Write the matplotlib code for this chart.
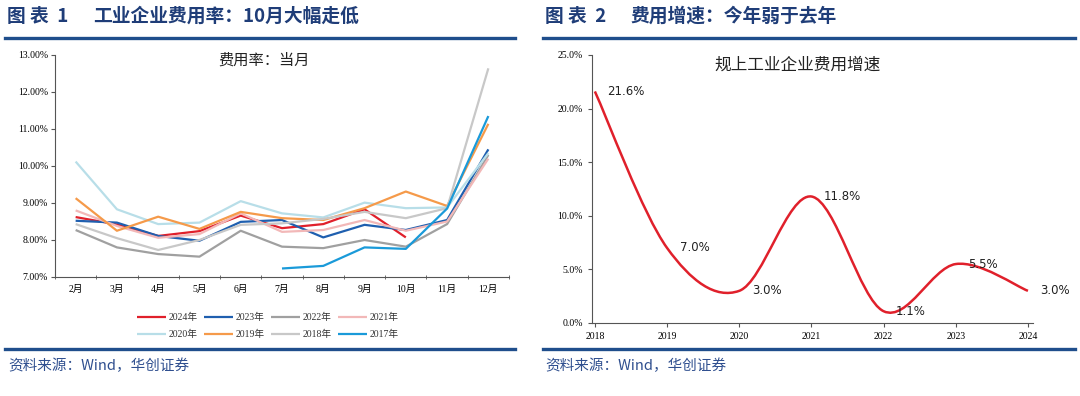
import numpy as np
import matplotlib
matplotlib.use("Agg")
import matplotlib.pyplot as plt
from matplotlib.path import Path
from matplotlib.patches import PathPatch
from matplotlib.lines import Line2D
from matplotlib.ticker import FuncFormatter, FixedLocator

plt.rcParams['font.family'] = ['Liberation Serif', 'Noto Sans CJK SC', 'DejaVu Sans']

# ---------------- data ----------------
months = ['2月', '3月', '4月', '5月', '6月', '7月', '8月', '9月', '10月', '11月', '12月']
nan = np.nan
rate_2024 = [8.62, 8.42, 8.11, 8.24, 8.66, 8.32, 8.43, 8.83, 8.07, nan, nan]
rate_2023 = [8.52, 8.47, 8.11, 7.98, 8.49, 8.54, 8.07, 8.41, 8.27, 8.54, 10.45]
rate_2022 = [8.27, 7.80, 7.62, 7.55, 8.25, 7.82, 7.78, 8.00, 7.82, 8.43, 10.30]
rate_2021 = [8.80, 8.38, 8.06, 8.16, 8.72, 8.22, 8.27, 8.54, 8.25, 8.50, 10.20]
rate_2020 = [10.12, 8.83, 8.43, 8.47, 9.05, 8.72, 8.61, 9.01, 8.86, 8.88, 10.35]
rate_2019 = [9.13, 8.25, 8.63, 8.30, 8.76, 8.59, 8.54, 8.86, 9.31, 8.92, 11.14]
rate_2018 = [8.43, 8.05, 7.73, 8.00, 8.41, 8.45, 8.57, 8.76, 8.59, 8.86, 12.64]
rate_2017 = [nan, nan, nan, nan, nan, 7.23, 7.30, 7.80, 7.76, 8.85, 11.35]

series_names = ['2024年', '2023年', '2022年', '2021年', '2020年', '2019年', '2018年', '2017年']
series_vals = [rate_2024, rate_2023, rate_2022, rate_2021, rate_2020, rate_2019, rate_2018, rate_2017]
series_colors = ['#E0202B', '#1F5FAF', '#A0A0A0', '#F2B8B8', '#B8DEE8', '#F59A4A', '#C8C8C8', '#1A9AD9']

growth_years = ['2018', '2019', '2020', '2021', '2022', '2023', '2024']
growth_vals = [21.6, 7.0, 3.0, 11.8, 1.1, 5.5, 3.0]

W, H = 1080, 396
fig = plt.figure(figsize=(W / 100, H / 100), dpi=100)
fig.patch.set_facecolor('white')

def fx(px):
    return px / W

def fy(py):
    return 1 - py / H

navy = '#1F3D78'
cjk = ['Noto Sans CJK SC', 'DejaVu Sans']

# ---------------- headers & rules ----------------
hdr = dict(fontsize=13.5, fontweight='bold', color=navy, va='center', ha='left', family=cjk)
fig.text(fx(7), fy(16), '图 表  1', **hdr)
fig.text(fx(93), fy(16), '工业企业费用率：10月大幅走低', **hdr)
fig.text(fx(545), fy(16), '图 表  2', **hdr)
fig.text(fx(630), fy(16), '费用增速：今年弱于去年', **hdr)
for x0, x1 in [(5, 515), (543, 1075)]:
    fig.add_artist(Line2D([fx(x0), fx(x1)], [fy(38), fy(38)], color='#1F4E8C', lw=2.4))
    fig.add_artist(Line2D([fx(x0), fx(x1)], [fy(349), fy(349)], color='#1F4E8C', lw=2.4))
src = dict(fontsize=10.5, color='#2F4F8F', va='center', ha='left', family=cjk)
fig.text(fx(8), fy(366), '资料来源：Wind，华创证券', **src)
fig.text(fx(545), fy(366), '资料来源：Wind，华创证券', **src)

# ---------------- left chart ----------------
axL = fig.add_axes([fx(55), fy(277), fx(509) - fx(55), fy(55) - fy(277)])
xs = np.arange(len(months))
lines = {}
for name, vals, col in zip(series_names, series_vals, series_colors):
    ln, = axL.plot(xs, vals, color=col, lw=1.6, label=name, solid_capstyle='butt')
    lines[name] = ln
axL.set_xlim(-0.5, len(months) - 0.5)
axL.set_ylim(7, 13)
axL.set_yticks(np.arange(7, 13.01, 1))
axL.yaxis.set_major_formatter(FuncFormatter(lambda v, p: f'{v:.2f}%'))
axL.set_xticks(xs)
axL.set_xticklabels(months)
axL.xaxis.set_minor_locator(FixedLocator(np.arange(-0.5, len(months), 1)))
axL.tick_params(axis='x', which='major', length=0, pad=6, labelsize=7)
axL.tick_params(axis='x', which='minor', length=3, direction='inout', color='#555555')
axL.tick_params(axis='y', length=3, direction='out', labelsize=7, pad=2, color='#555555')
for lab in axL.get_xticklabels() + axL.get_yticklabels():
    lab.set_family(['Liberation Serif', 'Noto Sans CJK SC'])
for s in ['top', 'right']:
    axL.spines[s].set_visible(False)
for s in ['left', 'bottom']:
    axL.spines[s].set_color('#555555')
    axL.spines[s].set_linewidth(0.8)
axL.text(0.46, 0.975, '费用率：当月', transform=axL.transAxes, ha='center', va='center',
         fontsize=11, family=cjk, color='#222222')

# legend: 4 columns, rows filled left-to-right (reorder for column-major fill)
ncol = 4
order = []
for c in range(ncol):
    for r in range(2):
        order.append(series_names[r * ncol + c])
leg = fig.legend([lines[n] for n in order], order, ncol=ncol, loc='center',
                 bbox_to_anchor=(fx(268), fy(326)),
                 frameon=False, handlelength=2.9, handletextpad=0.3,
                 columnspacing=0.7, labelspacing=0.8,
                 prop=dict(family=['Liberation Serif', 'Noto Sans CJK SC'], size=7))
for t in leg.get_texts():
    t.set_color('#333333')

# ---------------- right chart ----------------
axR = fig.add_axes([fx(592), fy(323), fx(1033) - fx(592), fy(55) - fy(323)])
gx = np.arange(len(growth_vals), dtype=float)
gy = np.array(growth_vals, dtype=float)
pts = np.column_stack([gx, gy])
verts = [pts[0]]
codes = [Path.MOVETO]
n = len(pts)
for i in range(n - 1):
    p0 = pts[i - 1] if i > 0 else pts[i]
    p1 = pts[i]
    p2 = pts[i + 1]
    p3 = pts[i + 2] if i + 2 < n else pts[i + 1]
    c1 = p1 + (p2 - p0) / 6.0
    c2 = p2 - (p3 - p1) / 6.0
    verts += [c1, c2, p2]
    codes += [Path.CURVE4] * 3
axR.add_patch(PathPatch(Path(verts, codes), facecolor='none', edgecolor='#E0202B', lw=1.8))
for xv, yv in zip(gx, gy):
    axR.annotate(f'{yv:.1f}%', (xv, yv), xytext=(9, 0), textcoords='offset points',
                 ha='left', va='center', fontsize=8.5, color='#222222',
                 family=['DejaVu Sans'])
axR.set_xlim(-0.04, 6.07)
axR.set_ylim(0, 25)
axR.set_yticks(np.arange(0, 25.01, 5))
axR.yaxis.set_major_formatter(FuncFormatter(lambda v, p: f'{v:.1f}%'))
axR.set_xticks(gx)
axR.set_xticklabels(growth_years)
axR.tick_params(axis='both', length=3, direction='out', labelsize=7, color='#555555')
for lab in axR.get_xticklabels() + axR.get_yticklabels():
    lab.set_family(['Liberation Serif'])
for s in ['top', 'right']:
    axR.spines[s].set_visible(False)
for s in ['left', 'bottom']:
    axR.spines[s].set_color('#555555')
    axR.spines[s].set_linewidth(0.8)
fig.text(fx(798), fy(65), '规上工业企业费用增速', ha='center', va='center',
         fontsize=12, family=cjk, color='#222222')

fig.savefig('out.png', dpi=100, facecolor='white')
